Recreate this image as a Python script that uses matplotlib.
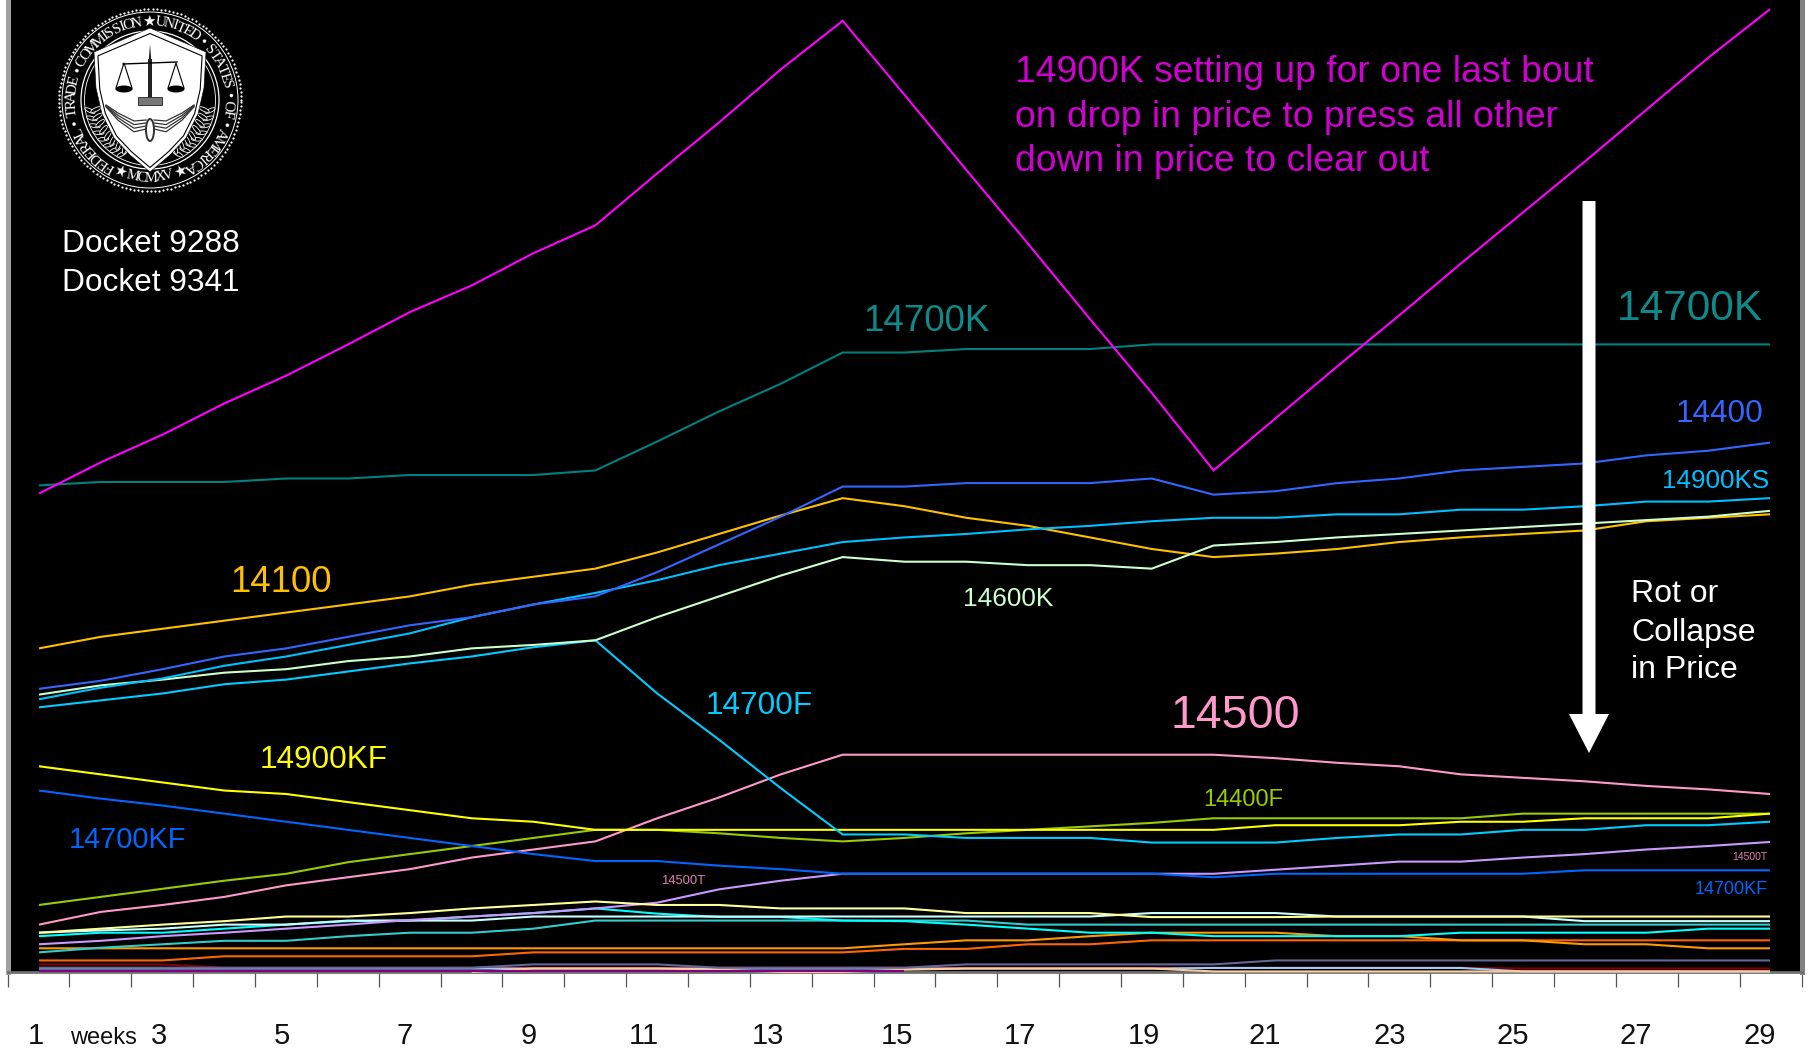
import numpy as np
import matplotlib
matplotlib.use('Agg')
import matplotlib.pyplot as plt
from matplotlib.patches import Circle, Ellipse, FancyArrow, Polygon, Rectangle
from matplotlib.transforms import IdentityTransform

plt.rcParams['font.family'] = ['Liberation Sans', 'DejaVu Sans']

W, H = 1812, 1049
nan = np.nan

weeks = list(range(1, 30))
week_labels = list(range(1, 30, 2))
# the printed numbers are not quite under their weeks
week_label_pos = [0.95, 2.94, 4.93, 6.92, 8.92, 10.78, 12.79, 14.87, 16.87, 18.87, 20.83, 22.85, 24.84, 26.83, 28.84]

# main lines (height above the baseline)
p14900k = [414, 441, 465, 492, 516, 543, 571, 594, 622, 646, 691, 735, 781, 823, 759, 694, 630, 565, 501, 434, 479, 524, 568, 613, 657, 701, 746, 791, 833]
p14700k = [421, 424, 424, 424, 427, 427, 430, 430, 430, 434, 459, 485, 509, 536, 536, 539, 539, 539, 543, 543, 543, 543, 543, 543, 543, 543, 543, 543, 543]
p14400 = [245, 252, 262, 273, 280, 290, 300, 307, 318, 325, 346, 370, 394, 420, 420, 423, 423, 423, 427, 413, 416, 423, 427, 434, 437, 440, 447, 451, 458]
p14900ks = [236, 246, 254, 265, 273, 283, 293, 307, 318, 328, 339, 352, 362, 372, 376, 379, 383, 386, 390, 393, 393, 396, 396, 400, 400, 403, 407, 407, 410]
p14700f = [229, 235, 241, 249, 253, 260, 267, 273, 281, 287, 241, 201, 159, 119, 119, 116, 116, 116, 112, 112, 112, 116, 119, 119, 123, 123, 127, 127, 130]
p14600k = [240, 248, 253, 259, 262, 269, 273, 280, 283, 287, 307, 325, 343, 359, 355, 355, 352, 352, 349, 369, 372, 376, 379, 382, 385, 388, 391, 394, 399]
p14100 = [280, 290, 297, 304, 311, 318, 325, 335, 342, 349, 363, 379, 395, 410, 403, 393, 386, 376, 366, 359, 362, 366, 372, 376, 379, 382, 390, 393, 396]
p14900kf = [178, 171, 164, 157, 154, 147, 140, 133, 130, 123, 123, 123, 123, 123, 123, 123, 123, 123, 123, 123, 127, 127, 127, 130, 130, 133, 133, 133, 137]
p14700kf = [157, 150, 144, 137, 130, 123, 116, 109, 102, 96, 96, 92, 89, 85, 85, 85, 85, 85, 85, 82, 85, 85, 85, 85, 85, 88, 88, 88, 88]
p14400f = [58, 65, 72, 79, 85, 95, 102, 109, 116, 123, 123, 120, 116, 113, 116, 120, 123, 126, 129, 133, 133, 133, 133, 133, 137, 137, 137, 137, 137]
p14500 = [41, 52, 58, 65, 75, 82, 89, 99, 106, 113, 133, 151, 171, 188, 188, 188, 188, 188, 188, 188, 185, 181, 178, 171, 168, 165, 161, 158, 154]

# bottom bunch
p14500t = [24, 27, 31, 34, 37.5, 41, 45, 48, 51, 55, 60, 71.5, 79, 85, 85, 85, 85, 85, 85, 85, 88.5, 92, 95.5, 95.5, 99, 102, 106, 109, 112.5]
pale_yellow = [34, 37.5, 41, 44, 48, 48, 51, 55, 58, 61, 58, 58, 55, 55, 55, 51, 51, 51, 47.5, 47.5, 47.5, 48, 48, 48, 48, 48, 48, 48, 48]
pale_cyan = [34, 36, 37.5, 41, 41, 44.5, 44.5, 44.5, 48, 48, 48, 48, 48, 48, 48, 48, 48, 48, 51, 51, 51, 48, 48, 48, 48, 44, 44, 44, 44]
cyan = [31, 34, 34, 37.5, 41, 44, 44.5, 48, 51, 55, 50.5, 47.6, 47.6, 44.5, 44, 41, 37.5, 34, 34, 31, 31, 31, 31, 34, 34, 34, 34, 37.5, 37.5]
teal = [17, 21, 24, 27, 27, 31, 34, 34, 37.5, 44.5, 44.5, 44.5, 44.5, 44.5, 44.5, 44.5, 41, 41, 41, 41, 41, 41, 41, 41, 41, 41, 41, 41, 41]
orange = [20.5, 20.5, 20.5, 20.5, 20.5, 20.5, 20.5, 20.5, 20.5, 20.5, 20.5, 20.5, 20.5, 20.5, 24, 27.4, 27.4, 31, 34, 34, 34, 31, 31, 27.4, 27.4, 24, 24, 20.5, 20.5]
red_orange = [10, 10, 10, 13.6, 13.6, 13.6, 13.6, 13.6, 17, 17, 17, 17, 17, 17, 20, 20, 24, 24, 27.4, 27.4, 27.4, 27.4, 27.4, 27.4, 27.4, 27.4, 27.4, 27.4, 27.4]
dark_red = [6.6, 6.6, 6.6, 3.7, 3.7, 3.7, 3.7, 3.7, 3.7, 3.7, 3.7, 3.7, 3.7, 3.7, 3.7, 3.7, 3.7, 3.7, 3.7, 3.7, 3.7, 3.7, 3.7, 3.7, 3, 3, 3, 3, 3]
light_blue = [3, 3, 3, 3, 3, 3, 3, 3, 3, 3, 3, 3, 3, 3, 3, 3, 3, 3, 3, 3.5, 3.5, 3.5, 3.5, 3.5, 0.5, 0.5, 0.5, 0.5, 0.5]
peach = [nan, nan, nan, nan, nan, nan, nan, 0, 3, 3, 3, 2, 0, 0, 2, 3, 3, 3, 3, 0.5, 0.5, 0.5, 0.5, 0.5, 0.5, 0.5, 0.5, 0.5, 0.5]
purple = [0.5, 0.5, 0.5, 0.5, 0.5, 0.5, 0.5, 0.5, 0.5, 0.5, 0.5, 0.5, 0.5, 0.5, 0.5, nan, nan, nan, nan, nan, nan, nan, nan, nan, nan, nan, nan, nan, nan]
grey_purple = [3.7, 3.7, 3.7, 3.7, 3.7, 3.7, 3.7, 3.7, 6.6, 6.6, 6.6, 3.7, 3.7, 3.7, 3.7, 6.6, 6.6, 6.6, 6.6, 6.6, 10, 10, 10, 10, 10, 10, 10, 10, 10]

lines = [
    (dark_red, '#800000'), (light_blue, '#99ccff'), (peach, '#ffcc99'), (purple, '#800080'),
    (grey_purple, '#666699'), (red_orange, '#ff6600'), (orange, '#ff9900'), (teal, '#33cccc'),
    (cyan, '#00ffff'), (pale_cyan, '#ccffff'), (p14500t, '#cc99ff'), (pale_yellow, '#ffff99'),
    (p14500, '#ff99cc'), (p14400f, '#99cc00'), (p14700kf, '#0066ff'), (p14900kf, '#ffff00'),
    (p14700f, '#00ccff'), (p14100, '#ffc000'), (p14600k, '#ccffcc'), (p14900ks, '#00bfff'),
    (p14400, '#3366ff'), (p14700k, '#008080'), (p14900k, '#ff00ff'),
]

fig = plt.figure(figsize=(W / 100, H / 100), dpi=100, facecolor='white')
ax = fig.add_axes([7.5 / W, (H - 972) / H, 1794 / W, 972 / H], facecolor='black')

for values, color in lines:
    ax.plot(weeks, values, color=color, lw=1.5, solid_joinstyle='miter', solid_capstyle='butt',
            clip_on=False, zorder=3)

ax.set_xlim(0.4905, 29.51)
ax.set_ylim(0, 841)
ax.set_yticks([])

# ticks are the week boundaries along the panel
ax.set_xticks(np.linspace(0.4905, 29.51, 30))
ax.set_xticklabels([])
ax.tick_params(axis='x', which='major', length=10.8, width=0.9, color='#555555')
ax.set_xticks(week_label_pos, minor=True)
ax.set_xticklabels([str(w) for w in week_labels], minor=True, fontsize=21, color='#111111')
ax.tick_params(axis='x', which='minor', length=0, pad=36)

ax.spines['top'].set_visible(False)
ax.spines['left'].set_linewidth(3.6)
ax.spines['left'].set_color('#a0a0a0')
ax.spines['right'].set_linewidth(3.6)
ax.spines['right'].set_color('#808080')
ax.spines['bottom'].set_linewidth(2)
ax.spines['bottom'].set_color('#707070')


def label(x, y, s, size, color, ha='left'):
    fig.text(x / W, 1 - (y + 3.5) / H, s, fontsize=size, color=color, ha=ha, va='center')


label(103, 1035, 'weeks', 17, '#111111', ha='center')

label(1015, 69, '14900K setting up for one last bout', 26.8, '#d000d0')
label(1015, 114, 'on drop in price to press all other', 26.8, '#d000d0')
label(1015, 158, 'down in price to clear out', 26.8, '#d000d0')

label(62, 240, 'Docket 9288', 22.8, 'white')
label(62, 279, 'Docket 9341', 22.8, 'white')

label(863, 318, '14700K', 26.5, '#0f8a8a')
label(1617, 306, '14700K', 30.5, '#0f8a8a')
label(1676, 411, '14400', 22.8, '#3366ff')
label(1662, 478, '14900KS', 18.8, '#00bfff')
label(230, 579, '14100', 26.4, '#ffc000')
label(963, 595, '14600K', 18.9, '#ccffcc')
label(706, 703, '14700F', 22.7, '#00ccff')
label(1171, 712, '14500', 33.5, '#ff99cc')
label(260, 757, '14900KF', 22.7, '#ffff00')
label(69, 836, '14700KF', 20.8, '#0066ff')
label(1203, 797, '14400F', 17, '#99cc00')
label(661, 878, '14500T', 9.4, '#e080b0')
label(1732, 854, '14500T', 7.5, '#e080b0')
label(1695, 886, '14700KF', 13, '#0066ff')

label(1631, 590, 'Rot or', 23, 'white')
label(1631, 630, 'Collapse', 23, 'white')
label(1631, 667, 'in Price', 23, 'white')

fig.add_artist(FancyArrow(1589, H - 201, 0, -552, width=13, head_width=40, head_length=39,
                          length_includes_head=True, color='white', lw=0,
                          transform=IdentityTransform()))

# FTC seal, drawn in pixels around its centre
seal = fig.add_axes([(150 - 95) / W, 1 - 195 / H, 190 / W, 190 / H])
seal.set_xlim(-95, 95)
seal.set_ylim(-95, 95)
seal.axis('off')

rim = np.radians(np.arange(0, 360, 2.6))
seal.scatter(91 * np.cos(rim), 91 * np.sin(rim), s=2.6, color='white', lw=0)
seal.add_patch(Circle((0, 0), 88, fill=False, ec='white', lw=0.7))
seal.add_patch(Circle((0, 0), 69, fill=False, ec='white', lw=0.9))
seal.add_patch(Circle((0, 0), 65.5, fill=False, ec='white', lw=0.6))


def ring_text(s, start, end, rotate, size):
    # narrow signs get less of the arc than capitals
    widths = [0.55 if c in ' I\u2022' else 1.3 if c in 'MW' else 1.0 for c in s]
    edges = np.cumsum([0] + widths)
    mids = (edges[:-1] + edges[1:]) / 2
    angles = start + (end - start) * mids / edges[-1]
    for a, ch in zip(angles, s):
        r = np.radians(a)
        seal.text(78 * np.sin(r), 78 * np.cos(r), ch, rotation=rotate(a), ha='center', va='center',
                  fontsize=size, color='white', family=['Liberation Serif', 'DejaVu Sans'])


ring_text('FEDERAL \u2022 TRADE \u2022 COMMISSION \u2605 UNITED \u2022 STATES \u2022 OF \u2022 AMERICA',
          -152, 152, lambda a: -a, 11)
ring_text('\u2605 MCMXV \u2605', 206, 154, lambda a: 180 - a, 10.5)

# laurel either side of the shield
for side in (-1, 1):
    for a in np.arange(100, 160, 7.5):
        r = np.radians(a)
        for rad, tilt in ((61, 35), (55, -15)):
            seal.add_patch(Ellipse((side * rad * np.sin(r), rad * np.cos(r)), 11, 3.6,
                                   angle=side * (90 - a + tilt), fc='black', ec='white', lw=0.6))

shield_x = [0, 56, 54, 48, 36, 20, 0, -20, -36, -48, -54, -56]
shield_y = [72, 48, 12, -14, -38, -55, -72, -55, -38, -14, 12, 48]
seal.add_patch(Polygon(np.column_stack([shield_x, shield_y]), fc='white', ec='black', lw=0.4))
seal.add_patch(Polygon(np.column_stack([np.array(shield_x) * 0.93, np.array(shield_y) * 0.93 - 0.5]),
                       fc='white', ec='black', lw=0.8))

# scales
seal.add_patch(Rectangle((-2.2, 3), 4.4, 38, color='#222222', lw=0))
seal.add_patch(Polygon([[-1.2, 41], [0, 56], [1.2, 41]], color='#222222', lw=0))
seal.add_patch(Rectangle((-12, -5), 24, 8, fc='#777777', ec='black', lw=0.5))
seal.plot([-27, 27], [36, 38], color='black', lw=1)
for cx in (-26, 26):
    seal.plot([cx - 8, cx, cx + 8], [12, 37, 12], color='black', lw=0.8)
    seal.add_patch(Ellipse((cx, 11), 17, 7, color='black', lw=0))

# wings and anchor
for side in (-1, 1):
    for drop in (0, 3, 6, 9):
        seal.plot(side * np.array([4, 16, 32, 44]), np.array([-20, -21, -13, -5]) - drop * np.array([1, 1.2, 0.8, 0.2]),
                  color='#333333', lw=0.9)
seal.add_patch(Ellipse((0, -30), 8, 22, fc='none', ec='#333333', lw=1.4))

fig.savefig('out.png', dpi=100, facecolor='white')
